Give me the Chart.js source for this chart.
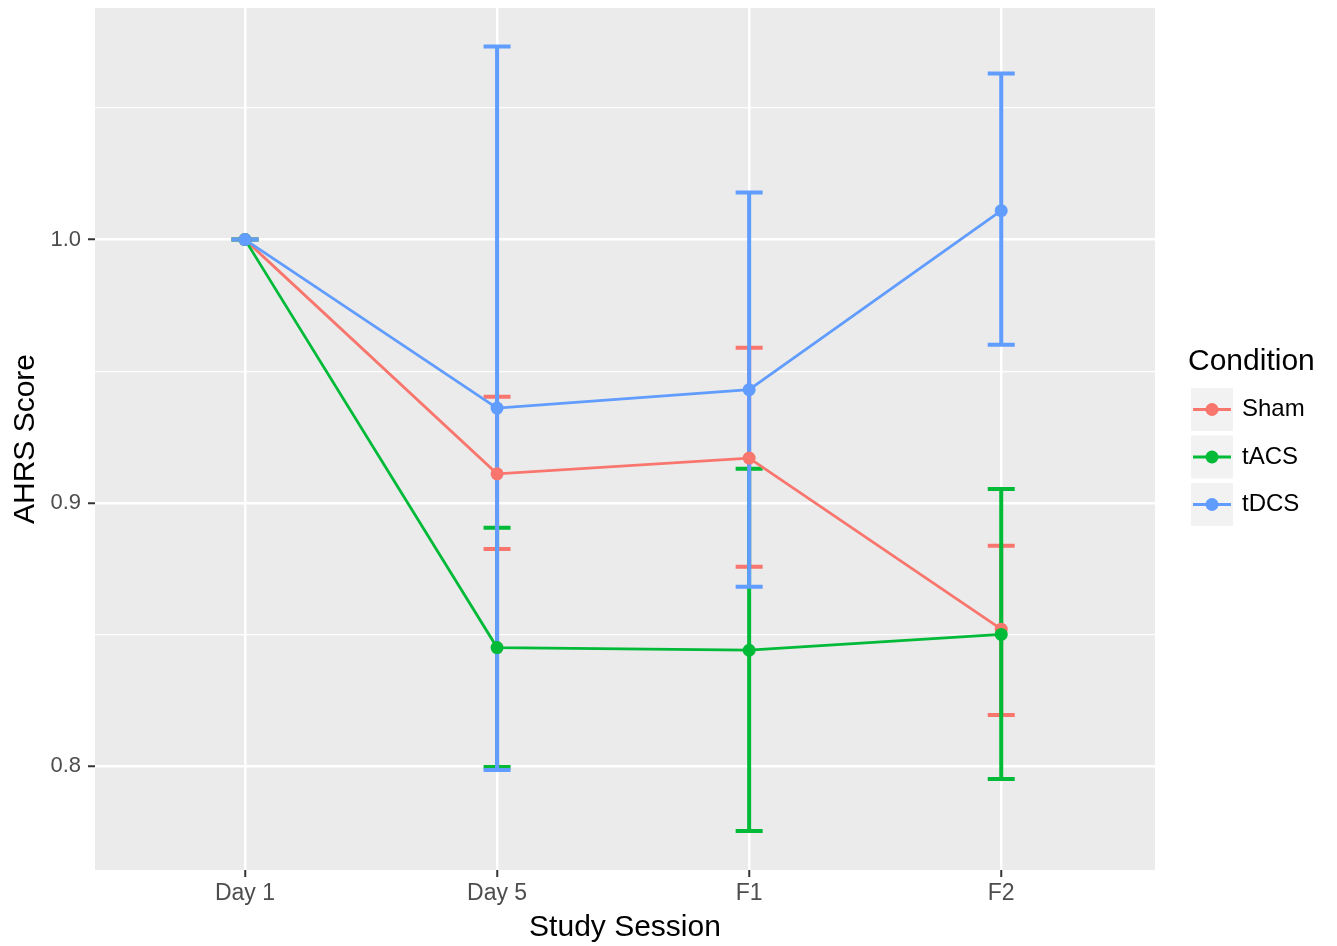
<!DOCTYPE html>
<html>
<head>
<meta charset="utf-8">
<script src="https://cdn.jsdelivr.net/npm/chart.js@4.4.1/dist/chart.umd.min.js"></script>
<style>
  html, body { margin: 0; padding: 0; background: #fff; }
  #wrap { width: 1337px; height: 946px; }
</style>
</head>
<body>
<div id="wrap"><canvas id="chart" width="1337" height="946"></canvas></div>
<script>
'use strict';

// data
var sessions = ['Day 1', 'Day 5', 'F1', 'F2'];
var conditions = ['Sham', 'tACS', 'tDCS'];

var shamMean = [1.0, 0.911, 0.917, 0.852];
var shamLow  = [1.0, 0.8825, 0.8757, 0.8194];
var shamHigh = [1.0, 0.9403, 0.9589, 0.8837];

var tacsMean = [1.0, 0.845, 0.844, 0.850];
var tacsLow  = [1.0, 0.7996, 0.7753, 0.7951];
var tacsHigh = [1.0, 0.8905, 0.9129, 0.9053];

var tdcsMean = [1.0, 0.936, 0.943, 1.011];
var tdcsLow  = [1.0, 0.7985, 0.8681, 0.9601];
var tdcsHigh = [1.0, 1.0734, 1.0179, 1.0631];

var yTicks = [0.8, 0.85, 0.9, 0.95, 1.0, 1.05];
var yLabels = ['0.8', '', '0.9', '', '1.0', ''];

var colors = ['#F8766D', '#00BA38', '#619CFF'];
var FONT = "'Liberation Sans', Arial, sans-serif";

function points(values) {
  return values.map(function(v, i) { return {x: i, y: v}; });
}

var means = [shamMean, tacsMean, tdcsMean];
var lows = [shamLow, tacsLow, tdcsLow];
var highs = [shamHigh, tacsHigh, tdcsHigh];

var datasets = conditions.map(function(name, k) {
  return {
    label: name,
    data: points(means[k]),
    borderColor: colors[k],
    backgroundColor: colors[k],
    borderWidth: 2.8,
    pointRadius: 6.5,
    pointHoverRadius: 6.5,
    pointBorderWidth: 0,
    tension: 0,
    order: 3 - k,
    lows: lows[k],
    highs: highs[k]
  };
});

var panelBg = {
  id: 'panelBg',
  beforeDraw: function(chart) {
    var a = chart.chartArea, ctx = chart.ctx;
    ctx.save();
    ctx.fillStyle = '#EBEBEB';
    ctx.fillRect(a.left, a.top, a.right - a.left, a.bottom - a.top);
    ctx.restore();
  }
};

var errorBars = {
  id: 'errorBars',
  beforeDatasetsDraw: function(chart) {
    var ctx = chart.ctx, xs = chart.scales.x, ys = chart.scales.y;
    ctx.save();
    ctx.lineWidth = 4;
    ctx.lineCap = 'butt';
    chart.data.datasets.forEach(function(ds) {
      ctx.strokeStyle = ds.borderColor;
      ds.lows.forEach(function(lo, i) {
        var x = xs.getPixelForValue(i);
        var y1 = ys.getPixelForValue(lo);
        var y2 = ys.getPixelForValue(ds.highs[i]);
        ctx.beginPath();
        ctx.moveTo(x, y1); ctx.lineTo(x, y2);
        ctx.moveTo(x - 13.5, y1); ctx.lineTo(x + 13.5, y1);
        ctx.moveTo(x - 13.5, y2); ctx.lineTo(x + 13.5, y2);
        ctx.stroke();
      });
    });
    ctx.restore();
  }
};

var ggLegend = {
  id: 'ggLegend',
  afterDraw: function(chart) {
    var ctx = chart.ctx;
    ctx.save();
    ctx.fillStyle = '#000';
    ctx.font = '30px ' + FONT;
    ctx.textBaseline = 'middle';
    ctx.textAlign = 'left';
    ctx.fillText('Condition', 1188, 362);
    conditions.forEach(function(name, k) {
      var top = 388 + k * 47.5;
      ctx.fillStyle = '#F2F2F2';
      ctx.fillRect(1191, top, 42, 43);
      var cy = top + 21.5;
      ctx.strokeStyle = colors[k];
      ctx.lineWidth = 2.8;
      ctx.beginPath();
      ctx.moveTo(1193, cy); ctx.lineTo(1231, cy);
      ctx.stroke();
      ctx.fillStyle = colors[k];
      ctx.beginPath();
      ctx.arc(1212, cy, 6.5, 0, Math.PI * 2);
      ctx.fill();
      ctx.fillStyle = '#000';
      ctx.font = '24px ' + FONT;
      ctx.fillText(name, 1242, cy);
    });
    ctx.restore();
  }
};

var isMajor = function(v) { return yLabels[yTicks.indexOf(v)] !== ''; };

new Chart(document.getElementById('chart').getContext('2d'), {
  type: 'line',
  data: { datasets: datasets },
  plugins: [panelBg, errorBars, ggLegend],
  options: {
    responsive: false,
    animation: false,
    layout: { padding: { left: 0, right: 182, top: 8, bottom: 0 } },
    plugins: {
      legend: { display: false },
      tooltip: { enabled: false }
    },
    scales: {
      x: {
        type: 'linear',
        min: -0.595,
        max: 3.61,
        afterBuildTicks: function(scale) {
          scale.ticks = sessions.map(function(s, i) { return {value: i}; });
        },
        afterFit: function(scale) {
          scale.height = 76;
          scale.paddingLeft = 0;
          scale.paddingRight = 0;
        },
        ticks: {
          autoSkip: false,
          maxRotation: 0,
          padding: 3,
          color: '#4D4D4D',
          font: { family: FONT, size: 23 },
          callback: function(v) { return sessions[v]; }
        },
        grid: {
          color: '#FFFFFF',
          lineWidth: 2.5,
          tickColor: '#333333',
          tickLength: 7,
          tickWidth: 2
        },
        border: { display: false },
        title: {
          display: true,
          text: 'Study Session',
          color: '#000',
          font: { family: FONT, size: 30 },
          padding: { top: 0, bottom: 0 }
        }
      },
      y: {
        type: 'linear',
        min: 0.7605,
        max: 1.088,
        afterBuildTicks: function(scale) {
          scale.ticks = yTicks.map(function(v) { return {value: v}; });
        },
        afterFit: function(scale) {
          scale.width = 95;
          scale.paddingTop = 0;
          scale.paddingBottom = 0;
        },
        ticks: {
          autoSkip: false,
          padding: 7,
          color: '#4D4D4D',
          font: { family: FONT, size: 22 },
          callback: function(v) { return yLabels[yTicks.indexOf(v)]; }
        },
        grid: {
          color: '#FFFFFF',
          lineWidth: function(c) { return c.tick && isMajor(c.tick.value) ? 2.5 : 1.2; },
          tickColor: function(c) { return c.tick && isMajor(c.tick.value) ? '#333333' : 'rgba(0,0,0,0)'; },
          tickLength: 7,
          tickWidth: 2
        },
        border: { display: false },
        title: {
          display: true,
          text: 'AHRS Score',
          color: '#000',
          font: { family: FONT, size: 30 },
          padding: { top: 8, bottom: 0 }
        }
      }
    }
  }
});
</script>
</body>
</html>
